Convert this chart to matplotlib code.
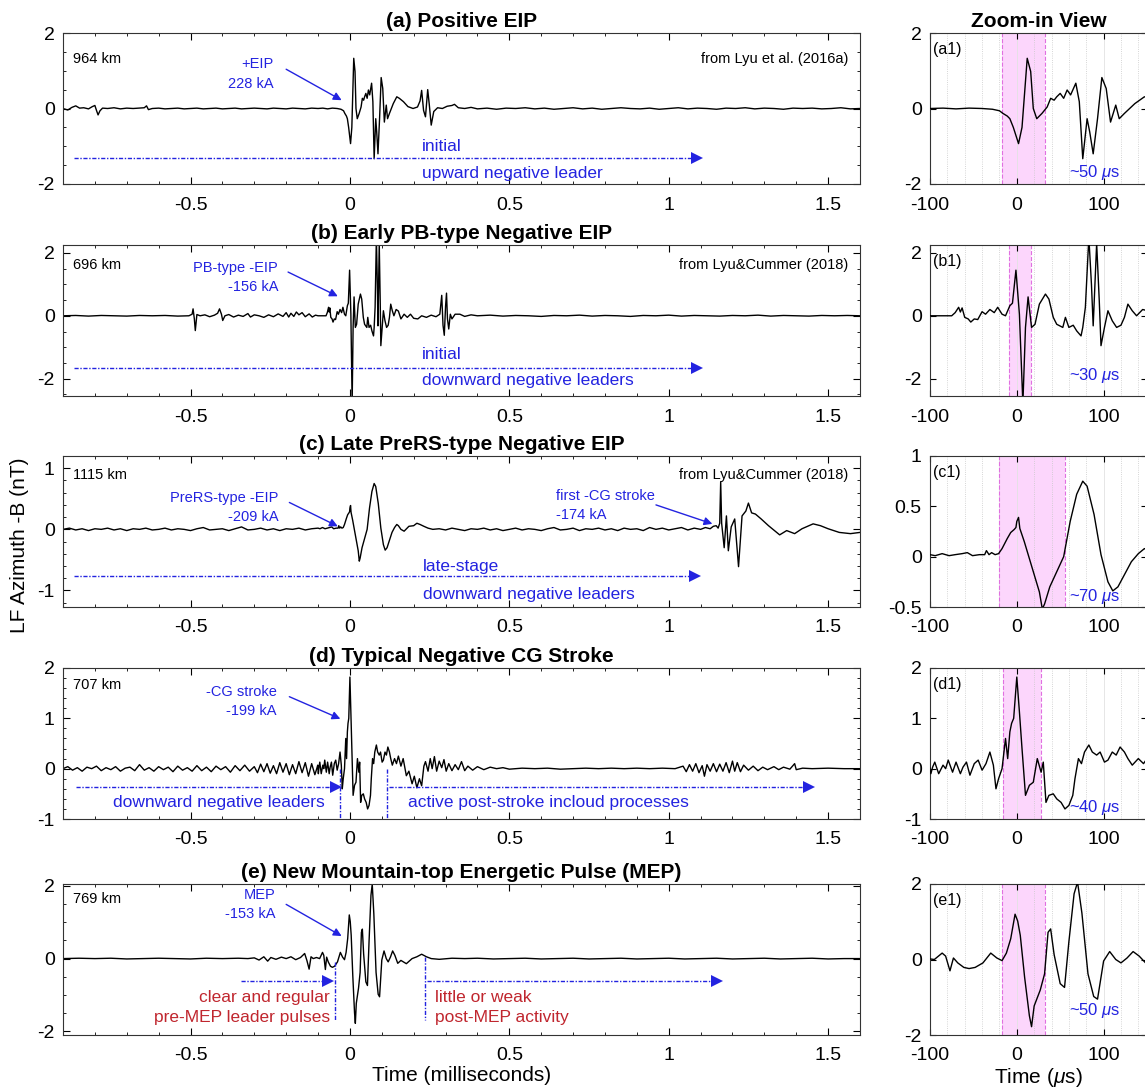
import numpy as np
import matplotlib.pyplot as plt
from matplotlib.ticker import MultipleLocator, FuncFormatter

plt.rcParams['font.family'] = ['Liberation Sans', 'DejaVu Sans']
plt.rcParams['axes.unicode_minus'] = False
plt.rcParams['mathtext.fontset'] = 'custom'
plt.rcParams['mathtext.rm'] = 'Liberation Sans'
plt.rcParams['mathtext.it'] = 'Liberation Sans:italic'

BLUE = '#2323e0'
RED = '#c0262e'
PINK = '#fcd6fc'
EDGE = '#e070e0'

# ---- waveforms: (time in microseconds, field in nT) ----
pos_eip = [(-900, 0.0), (-885, -0.04), (-872, 0.03), (-860, 0.07), (-848, 0.01), (-835, 0.02),
           (-820, -0.01), (-808, 0.05), (-800, 0.08), (-795, -0.05), (-790, -0.17), (-784, -0.06),
           (-776, 0.01), (-760, 0.0), (-740, 0.02), (-720, -0.01), (-700, 0.01), (-680, 0.0),
           (-660, 0.01), (-645, 0.02), (-638, 0.07), (-632, -0.03), (-620, 0.0), (-600, 0.01),
           (-580, -0.01), (-560, 0.0), (-540, 0.01), (-520, -0.01), (-500, 0.0), (-480, 0.01),
           (-460, -0.01), (-440, 0.0), (-420, 0.01), (-400, -0.01), (-380, 0.0), (-360, 0.01),
           (-340, -0.01), (-320, 0.0), (-300, 0.01), (-280, 0.0), (-260, -0.01), (-240, 0.01),
           (-220, 0.0), (-200, -0.01), (-180, 0.01), (-160, 0.0), (-140, -0.01), (-120, 0.01),
           (-100, 0.0), (-85, 0.01), (-70, -0.01), (-55, 0.01), (-40, 0.0), (-28, -0.02),
           (-20, -0.06), (-16, -0.13), (-11, -0.2), (-8, -0.27), (-4, -0.5), (2, -0.93), (6, -0.5),
           (9, 0.4), (12, 1.33), (16, 0.98), (19, 0.0), (23, -0.27), (29, -0.13), (35, 0.04),
           (39, 0.27), (43, 0.22), (46, 0.31), (50, 0.4), (54, 0.27), (58, 0.49), (62, 0.36),
           (68, 0.67), (72, 0.18), (76, -1.33), (81, -0.27), (84, -0.62), (88, -1.2), (93, -0.27),
           (98, 0.82), (103, 0.53), (108, -0.36), (114, 0.09), (118, -0.27), (124, -0.13),
           (136, 0.13), (147, 0.31), (155, 0.27), (168, 0.18), (182, 0.05), (198, 0.0), (212, 0.04),
           (220, 0.2), (225, 0.48), (231, -0.05), (237, -0.22), (244, 0.5), (249, 0.1), (255, -0.44),
           (263, -0.08), (275, 0.02), (290, 0.0), (305, 0.06), (320, 0.08), (328, 0.11), (340, 0.02),
           (360, 0.0), (380, 0.03), (400, -0.01), (430, 0.01), (460, -0.02), (490, 0.01), (520, 0.0),
           (550, 0.02), (580, -0.01), (610, 0.01), (640, -0.02), (670, 0.0), (700, 0.02), (730, -0.01),
           (760, 0.01), (790, -0.02), (820, 0.0), (850, 0.02), (880, 0.0), (910, -0.01), (940, 0.01),
           (970, -0.02), (1000, 0.0), (1030, 0.02), (1060, -0.01), (1090, 0.01), (1120, 0.0),
           (1150, -0.02), (1180, 0.01), (1210, 0.0), (1240, 0.02), (1270, -0.01), (1300, 0.01),
           (1330, 0.0), (1360, -0.02), (1390, 0.01), (1420, 0.0), (1450, 0.01), (1480, -0.01),
           (1510, 0.0), (1540, 0.02), (1570, -0.01), (1600, 0.0)]

pb_eip = [(-900, 0.0), (-860, 0.01), (-820, -0.01), (-780, 0.01), (-740, 0.0), (-700, -0.01),
          (-660, 0.01), (-620, 0.0), (-580, 0.01), (-540, -0.01), (-505, 0.0), (-495, 0.05),
          (-492, 0.22), (-488, -0.1), (-485, -0.47), (-480, 0.04), (-470, 0.0), (-455, 0.03),
          (-440, -0.03), (-425, 0.02), (-415, 0.08), (-409, 0.22), (-403, 0.05), (-399, -0.15),
          (-392, 0.0), (-380, 0.04), (-365, -0.04), (-350, 0.02), (-335, -0.02), (-320, 0.07),
          (-312, -0.04), (-300, 0.03), (-285, 0.0), (-270, -0.05), (-255, 0.03), (-240, -0.03),
          (-225, 0.06), (-210, -0.02), (-200, 0.1), (-192, -0.04), (-185, 0.08), (-176, -0.02),
          (-168, 0.12), (-160, 0.03), (-150, 0.1), (-140, -0.03), (-128, 0.06), (-118, -0.04),
          (-108, 0.02), (-100, 0.0), (-75, 0.0), (-71, 0.1), (-67, 0.27), (-65, 0.12), (-63, 0.25),
          (-60, -0.05), (-56, -0.1), (-53, -0.2), (-49, -0.1), (-45, -0.12), (-40, 0.13), (-36, 0.05),
          (-31, 0.2), (-26, 0.1), (-22, 0.27), (-17, 0.05), (-13, 0.0), (-8, 0.32), (-5, 0.4),
          (-1, 1.45), (3, 0.05), (7, -2.8), (10, -0.37), (13, 0.6), (17, -0.37), (21, -0.27),
          (26, 0.37), (33, 0.69), (37, 0.53), (42, -0.05), (46, -0.27), (53, -0.37), (56, -0.05),
          (60, -0.37), (65, -0.3), (69, -0.48), (74, -0.64), (76, -0.37), (79, 0.27), (83, 2.5),
          (86, 1.0), (88, -0.32), (92, 2.3), (95, 0.48), (97, -0.95), (101, -0.37), (105, 0.16),
          (110, -0.16), (115, -0.37), (120, -0.3), (124, -0.05), (128, 0.37), (133, 0.16),
          (138, 0.0), (145, 0.2), (152, 0.15), (160, -0.1), (170, 0.05), (180, -0.05), (190, 0.05),
          (200, -0.08), (213, -0.1), (225, 0.0), (240, -0.05), (255, 0.02), (270, -0.03), (282, 0.05),
          (288, 0.65), (292, -0.3), (296, -0.62), (300, 0.3), (303, 0.72), (306, -0.1), (310, -0.42),
          (315, 0.05), (320, -0.1), (330, 0.05), (345, 0.05), (360, -0.02), (380, 0.03), (400, 0.0),
          (440, 0.02), (480, -0.01), (520, 0.01), (560, 0.0), (600, -0.02), (640, 0.01), (680, 0.0),
          (720, 0.02), (760, -0.01), (800, 0.01), (840, 0.0), (880, -0.02), (920, 0.01), (960, 0.0),
          (1000, 0.02), (1040, -0.01), (1080, 0.01), (1120, 0.0), (1160, -0.01), (1200, 0.01),
          (1240, 0.0), (1280, 0.02), (1320, -0.01), (1360, 0.01), (1400, 0.0), (1440, -0.01),
          (1480, 0.01), (1520, 0.0), (1560, 0.01), (1600, 0.0)]

prers_eip = [(-900, 0.0), (-880, 0.02), (-860, -0.01), (-840, 0.01), (-820, -0.02), (-800, 0.01),
             (-780, 0.0), (-760, 0.02), (-740, -0.01), (-720, 0.01), (-700, -0.02), (-680, 0.01),
             (-660, 0.0), (-640, 0.02), (-620, -0.01), (-600, 0.0), (-580, 0.02), (-560, -0.01),
             (-540, 0.01), (-520, 0.0), (-500, -0.02), (-480, 0.01), (-460, 0.03), (-440, -0.01),
             (-420, 0.0), (-400, 0.01), (-380, -0.02), (-360, 0.01), (-340, 0.04), (-320, -0.01),
             (-300, 0.0), (-280, 0.02), (-260, -0.01), (-240, 0.01), (-220, -0.02), (-200, 0.01),
             (-180, 0.0), (-160, 0.02), (-140, -0.01), (-120, 0.01), (-100, 0.02), (-94, 0.01),
             (-86, 0.03), (-78, 0.01), (-71, 0.02), (-63, 0.03), (-57, 0.04), (-51, 0.01), (-43, 0.02),
             (-37, 0.02), (-35, 0.06), (-32, 0.02), (-29, 0.04), (-25, 0.02), (-21, 0.03), (-17, 0.08),
             (-11, 0.18), (-7, 0.24), (-3, 0.27), (-1, 0.29), (0, 0.35), (2, 0.39), (3.5, 0.28),
             (8.6, 0.15), (14.5, -0.02), (20, -0.18), (26, -0.35), (29.4, -0.52), (32, -0.47),
             (38, -0.3), (46, -0.15), (54, 0.0), (61.5, 0.35), (69, 0.62), (76, 0.75), (81, 0.7),
             (89, 0.42), (97, 0.02), (105, -0.25), (110.6, -0.34), (116.5, -0.3), (124, -0.18),
             (132, -0.05), (140, 0.03), (147, 0.08), (152, 0.06), (160, 0.0), (170, -0.03), (185, 0.05),
             (200, 0.06), (210, 0.1), (220, 0.08), (232, 0.05), (245, 0.02), (260, 0.0), (280, 0.01),
             (300, -0.01), (320, 0.02), (340, 0.0), (360, -0.02), (380, 0.01), (400, 0.0), (420, 0.02),
             (440, -0.01), (460, 0.01), (480, -0.02), (500, 0.0), (520, 0.02), (540, -0.01), (560, 0.01),
             (580, 0.0), (600, -0.02), (620, 0.01), (640, 0.03), (660, -0.01), (680, 0.0), (700, 0.02),
             (720, -0.02), (740, 0.01), (760, 0.0), (780, 0.02), (800, -0.01), (820, 0.01), (840, -0.02),
             (860, 0.02), (880, 0.0), (900, 0.01), (920, -0.02), (940, 0.03), (960, 0.0), (980, 0.02),
             (1000, -0.01), (1020, 0.01), (1040, 0.03), (1060, -0.01), (1080, 0.02), (1100, 0.0),
             (1115, 0.03), (1130, 0.01), (1140, 0.05), (1149, 0.06), (1155, 0.02), (1160, 0.1),
             (1163, 0.78), (1166, 0.1), (1174, -0.3), (1181, 0.22), (1187, -0.35), (1196, 0.04),
             (1207, 0.17), (1219, -0.61), (1225, -0.15), (1230, 0.22), (1242, 0.3), (1250, 0.43),
             (1260, 0.27), (1272, 0.25), (1290, 0.17), (1313, 0.06), (1336, -0.04), (1348, -0.09),
             (1370, -0.02), (1395, -0.07), (1418, 0.01), (1453, 0.09), (1476, 0.06), (1500, 0.01),
             (1535, -0.05), (1570, -0.07), (1600, -0.05)]

cg_stroke = [(-900, 0.0), (-885, 0.04), (-870, -0.03), (-855, 0.02), (-840, -0.05), (-825, 0.03),
             (-810, 0.0), (-795, 0.05), (-780, -0.04), (-765, 0.02), (-750, -0.02), (-735, 0.04),
             (-720, -0.05), (-705, 0.01), (-690, 0.03), (-675, -0.04), (-660, 0.08), (-645, -0.03),
             (-630, 0.02), (-615, -0.05), (-600, 0.04), (-585, -0.02), (-570, 0.03), (-555, -0.06),
             (-540, 0.05), (-525, -0.03), (-510, 0.02), (-495, -0.05), (-480, 0.06), (-465, -0.04),
             (-450, 0.03), (-435, -0.06), (-420, 0.05), (-405, -0.02), (-390, 0.04), (-375, -0.07),
             (-360, 0.06), (-345, -0.04), (-330, 0.07), (-315, -0.05), (-300, 0.04), (-290, -0.08),
             (-280, 0.09), (-270, -0.06), (-260, 0.1), (-250, -0.09), (-240, 0.06), (-230, -0.1),
             (-220, 0.12), (-210, -0.07), (-200, 0.1), (-190, -0.12), (-180, 0.08), (-170, -0.1),
             (-160, 0.14), (-150, -0.08), (-140, 0.12), (-130, -0.15), (-120, 0.1), (-110, -0.12),
             (-104, 0.0), (-101, 0.07), (-99, -0.1), (-97, 0.03), (-94.5, 0.13), (-90, -0.1), (-85, 0.07),
             (-82, 0.0), (-79, 0.17), (-74, -0.07), (-70, 0.13), (-65, -0.1), (-62, 0.03), (-58, 0.13),
             (-54, -0.13), (-49, 0.1), (-44.5, 0.17), (-40, -0.03), (-35.5, 0.1), (-31, 0.33), (-27, 0.07),
             (-24, -0.4), (-21, -0.2), (-17, 0.0), (-13, 0.6), (-10.5, 0.2), (-8, 0.73), (-6, 0.9),
             (-3.6, 1.0), (0, 1.82), (3, 1.13), (6, 0.4), (10, -0.53), (14.5, -0.33), (19, -0.27),
             (23.6, 0.2), (28, -0.07), (30.5, 0.13), (33.6, -0.67), (37, -0.53), (42, -0.5), (46, -0.6),
             (51, -0.67), (55.5, -0.8), (60, -0.73), (64.5, -0.53), (67, -0.2), (71, 0.2), (74.5, 0.1),
             (78, 0.33), (83, 0.47), (87, 0.33), (92, 0.27), (96, 0.33), (101, 0.13), (105, 0.17),
             (110, 0.33), (114.5, 0.27), (119, 0.43), (124, 0.33), (128, 0.2), (133, 0.07), (140, 0.2),
             (146, 0.1), (152, 0.25), (160, 0.05), (167, 0.2), (177, -0.14), (185, -0.05), (195, -0.3),
             (202, -0.15), (210, -0.38), (218, -0.2), (225, -0.34), (232, 0.05), (237, 0.14), (245, -0.05),
             (252, 0.2), (258, 0.0), (265, 0.24), (272, -0.05), (280, 0.15), (288, 0.02), (295, 0.18),
             (302, -0.05), (310, 0.1), (320, -0.04), (330, 0.08), (340, -0.02), (350, 0.14), (360, -0.04),
             (370, 0.05), (385, -0.03), (400, 0.04), (420, -0.02), (440, 0.03), (460, 0.0), (480, 0.02),
             (500, -0.01), (540, 0.01), (580, 0.0), (620, 0.01), (660, -0.01), (700, 0.0), (740, 0.01),
             (780, 0.0), (820, 0.01), (860, 0.0), (900, 0.01), (940, 0.0), (980, 0.01), (1020, 0.0),
             (1045, 0.05), (1055, -0.06), (1065, 0.08), (1075, -0.05), (1085, 0.1), (1095, -0.08),
             (1105, 0.06), (1112, -0.15), (1120, 0.08), (1130, -0.05), (1140, 0.1), (1150, -0.06),
             (1160, 0.09), (1170, -0.05), (1180, 0.12), (1190, -0.08), (1200, 0.15), (1207, -0.05),
             (1215, 0.12), (1225, -0.06), (1235, 0.07), (1250, -0.03), (1265, 0.05), (1280, -0.04),
             (1295, 0.03), (1310, -0.02), (1330, 0.04), (1345, -0.02), (1360, 0.03), (1380, -0.01),
             (1395, 0.1), (1400, -0.02), (1420, 0.01), (1450, 0.0), (1500, 0.01), (1550, 0.0), (1600, 0.0)]

mep = [(-900, 0.0), (-850, 0.01), (-800, 0.0), (-750, 0.01), (-700, -0.01), (-650, 0.0), (-600, 0.01),
       (-550, 0.0), (-500, -0.01), (-450, 0.01), (-400, 0.0), (-350, 0.01), (-320, 0.0), (-300, 0.02),
       (-285, -0.04), (-270, 0.05), (-258, -0.07), (-248, 0.03), (-232, -0.02), (-215, 0.04),
       (-200, 0.0), (-185, 0.05), (-170, -0.03), (-155, 0.03), (-142, 0.14), (-135, -0.05),
       (-128, -0.29), (-122, 0.05), (-115, 0.0), (-105, 0.03), (-95, 0.0), (-86, 0.17), (-82, 0.09),
       (-77, -0.3), (-73, 0.04), (-68, -0.09), (-61, -0.21), (-55, -0.24), (-48, -0.21), (-39, -0.09),
       (-30, 0.17), (-23, 0.04), (-17, -0.03), (-12, 0.17), (-7, 0.55), (-2, 1.2), (1, 1.02), (4, 0.64),
       (9, -0.47), (14.5, -1.49), (17, -1.78), (20, -1.23), (27, -0.81), (32, -0.38), (36, 0.72),
       (39, 0.81), (43, 0.13), (50, -0.64), (55, -0.74), (60, 0.47), (66, 1.74), (70, 2.05), (75, 1.23),
       (82, -0.38), (88.6, -0.98), (93, -1.05), (100, -0.04), (107, 0.21), (114, 0.0), (120, -0.09),
       (127, 0.04), (134, 0.21), (141, 0.09), (150, -0.13), (160, -0.05), (177, -0.14), (195, 0.0),
       (210, 0.05), (225, 0.12), (240, 0.05), (255, 0.0), (280, -0.02), (320, 0.01), (360, 0.0),
       (400, 0.01), (450, -0.01), (500, 0.0), (550, 0.01), (600, -0.01), (650, 0.0), (700, 0.01),
       (750, -0.01), (800, 0.0), (850, 0.01), (900, -0.01), (950, 0.0), (1000, 0.01), (1050, -0.01),
       (1100, 0.0), (1150, 0.01), (1200, -0.01), (1250, 0.0), (1300, 0.01), (1350, -0.01), (1400, 0.0),
       (1450, 0.01), (1500, -0.01), (1550, 0.0), (1600, 0.0)]

waves = [pos_eip, pb_eip, prers_eip, cg_stroke, mep]

titles = ['(a) Positive EIP', '(b) Early PB-type Negative EIP', '(c) Late PreRS-type Negative EIP',
          '(d) Typical Negative CG Stroke', '(e) New Mountain-top Energetic Pulse (MEP)']
distances = ['964 km', '696 km', '1115 km', '707 km', '769 km']
sources = ['from Lyu et al. (2016a)', 'from Lyu&Cummer (2018)', 'from Lyu&Cummer (2018)', '', '']
main_ylims = [(-2, 2), (-2.55, 2.25), (-1.27, 1.2), (-1, 2), (-2.1, 2.05)]
main_yticks = [[-2, 0, 2], [-2, 0, 2], [-1, 0, 1], [-1, 0, 1, 2], [-2, 0, 2]]
main_yminor = [0.5, 0.5, 0.2, 0.2, 0.5]

zoom_tags = ['(a1)', '(b1)', '(c1)', '(d1)', '(e1)']
zoom_widths = ['~50', '~30', '~70', '~40', '~50']
zoom_spans = [(-17, 32), (-9, 16), (-21, 55), (-16, 28), (-17, 33)]
zoom_ylims = [(-2, 2), (-2.55, 2.25), (-0.5, 1), (-1, 2), (-2, 2)]
zoom_yticks = [[-2, 0, 2], [-2, 0, 2], [-0.5, 0, 0.5, 1], [-1, 0, 1, 2], [-2, 0, 2]]
zoom_note_y = [-1.7, -1.9, -0.4, -0.77, -1.36]

W, H = 1145, 1090
fig = plt.figure(figsize=(W / 100, H / 100), dpi=100)


def box(l, t, r, b):
    return fig.add_axes([l / W, 1 - b / H, (r - l) / W, (b - t) / H])


def leader(ax, x0, x1, y):
    ax.plot([x0, x1], [y, y], color=BLUE, lw=1.0, ls=(0, (3, 1.2, 1, 1.2)))
    ax.plot([x1], [y], marker='>', color=BLUE, ms=8, mew=0)


def vmark(ax, x, y0, y1):
    ax.plot([x, x], [y0, y1], color=BLUE, lw=1.0, ls=(0, (3, 1.2, 1, 1.2)))


def pointer(ax, xy_from, xy_to):
    ax.annotate('', xy=xy_to, xytext=xy_from,
                arrowprops=dict(arrowstyle='-|>', color=BLUE, lw=1.0, mutation_scale=12,
                                shrinkA=0, shrinkB=0))


def note(ax, x, y, s, ha='right', size=10.5, color=BLUE, ls=1.5):
    ax.text(x, y, s, ha=ha, va='center', ma=ha, color=color, fontsize=size, linespacing=ls)


def frame(ax):
    for s in ax.spines.values():
        s.set_color('#333333')
        s.set_linewidth(0.8)
    ax.tick_params(which='both', direction='in', top=True, right=True, labelsize=14)
    ax.tick_params(axis='x', pad=9)
    ax.tick_params(axis='y', pad=6)


fmt = FuncFormatter(lambda x, p: '%g' % x)
tops = [33, 245, 456, 668, 884]
PH = 151
dist_y = [0.83, 0.87, 0.875, 0.89, 0.9]
axes_main = []

for i in range(5):
    t = np.array([p[0] for p in waves[i]], dtype=float)
    v = np.array([p[1] for p in waves[i]], dtype=float)

    ax = box(63, tops[i], 860, tops[i] + PH)
    ax.plot(t / 1000.0, v, color='k', lw=1.0)
    ax.set_xlim(-0.9, 1.6)
    ax.set_ylim(*main_ylims[i])
    ax.set_xticks([-0.5, 0, 0.5, 1, 1.5])
    ax.xaxis.set_minor_locator(MultipleLocator(0.1))
    ax.set_yticks(main_yticks[i])
    ax.yaxis.set_minor_locator(MultipleLocator(main_yminor[i]))
    ax.xaxis.set_major_formatter(fmt)
    ax.yaxis.set_major_formatter(fmt)
    frame(ax)
    ax.tick_params(which='major', length=5)
    ax.tick_params(which='minor', length=2.5)
    ax.set_title(titles[i], fontsize=15, fontweight='bold', pad=4)
    ax.text(0.013, dist_y[i], distances[i], transform=ax.transAxes, fontsize=10.5, va='center')
    if sources[i]:
        ax.text(0.985, dist_y[i], sources[i], transform=ax.transAxes, fontsize=10.5,
                ha='right', va='center')
    axes_main.append(ax)

    # zoom-in view
    zx = box(930, tops[i], 1147, tops[i] + PH)
    lo, hi = zoom_spans[i]
    zx.axvspan(lo, hi, color=PINK, lw=0, zorder=0)
    zx.axvline(lo, color=EDGE, ls='--', lw=0.8, zorder=1)
    zx.axvline(hi, color=EDGE, ls='--', lw=0.8, zorder=1)
    zx.plot(t, v, color='k', lw=1.0, zorder=3)
    zx.set_xlim(-100, 150)
    zx.set_ylim(*zoom_ylims[i])
    zx.set_xticks([-100, 0, 100])
    zx.xaxis.set_minor_locator(MultipleLocator(20))
    zx.set_yticks(zoom_yticks[i])
    zx.xaxis.set_major_formatter(fmt)
    zx.yaxis.set_major_formatter(fmt)
    zx.grid(True, which='major', axis='x', color='#e2e2e2', lw=0.6, zorder=0)
    zx.grid(True, which='minor', axis='x', color='#c8c8c8', lw=0.6, ls=':', zorder=0)
    zx.set_axisbelow(True)
    frame(zx)
    zx.tick_params(which='major', length=4)
    zx.tick_params(which='minor', length=0)
    zx.text(0.015, 0.89, zoom_tags[i], transform=zx.transAxes, fontsize=11.5, va='center')
    zx.text(60, zoom_note_y[i], zoom_widths[i] + r' $\mu$s', color=BLUE, fontsize=12,
            ha='left', va='center')
    if i == 0:
        zx.set_title('Zoom-in View', fontsize=15, fontweight='bold', pad=4)
    if i == 4:
        zx.set_xlabel(r'Time ($\mu$s)', fontsize=15, labelpad=1)

a, b, c, d, e = axes_main

# (a)
note(a, -0.24, 0.91, '+EIP\n228 kA')
pointer(a, (-0.2, 1.04), (-0.026, 0.22))
leader(a, -0.865, 1.09, -1.3)
note(a, 0.225, -1.0, 'initial', ha='left', size=12.5)
note(a, 0.225, -1.72, 'upward negative leader', ha='left', size=12.5)

# (b)
note(b, -0.225, 1.21, 'PB-type -EIP\n-156 kA')
pointer(b, (-0.194, 1.39), (-0.038, 0.62))
leader(b, -0.865, 1.09, -1.65)
note(b, 0.225, -1.24, 'initial', ha='left', size=12.5)
note(b, 0.225, -2.06, 'downward negative leaders', ha='left', size=12.5)

# (c)
note(c, -0.225, 0.36, 'PreRS-type -EIP\n-209 kA')
pointer(c, (-0.19, 0.44), (-0.038, 0.05))
note(c, 0.645, 0.39, 'first -CG stroke\n-174 kA', ha='left')
pointer(c, (0.96, 0.40), (1.137, 0.09))
leader(c, -0.865, 1.084, -0.77)
note(c, 0.23, -0.6, 'late-stage', ha='left', size=12.5)
note(c, 0.23, -1.06, 'downward negative leaders', ha='left', size=12.5)

# (d)
note(d, -0.23, 1.33, '-CG stroke\n-199 kA')
pointer(d, (-0.19, 1.43), (-0.03, 0.99))
leader(d, -0.86, -0.045, -0.37)
vmark(d, -0.03, 0.0, -1.0)
vmark(d, 0.115, 0.0, -1.0)
leader(d, 0.123, 1.44, -0.37)
note(d, -0.08, -0.68, 'downward negative leaders', size=12.5)
note(d, 0.183, -0.68, 'active post-stroke incloud processes', ha='left', size=12.5)

# (e)
note(e, -0.235, 1.49, 'MEP\n-153 kA')
pointer(e, (-0.2, 1.49), (-0.026, 0.62))
leader(e, -0.343, -0.07, -0.62)
vmark(e, -0.047, -0.1, -1.7)
vmark(e, 0.234, 0.05, -1.7)
leader(e, 0.243, 1.15, -0.62)
note(e, -0.062, -1.34, 'clear and regular\npre-MEP leader pulses', size=12.5, color=RED, ls=1.4)
note(e, 0.267, -1.34, 'little or weak\npost-MEP activity', ha='left', size=12.5, color=RED, ls=1.4)
e.set_xlabel('Time (milliseconds)', fontsize=15, labelpad=1)

fig.text(20 / W, 0.5, 'LF Azimuth -B (nT)', rotation=90, ha='center', va='center', fontsize=15)

fig.savefig('out.png', dpi=100)
